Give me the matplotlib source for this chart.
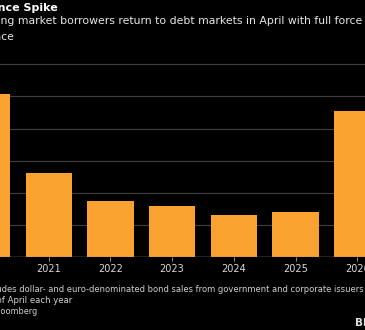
import matplotlib.pyplot as plt

# April bond sales by emerging market borrowers, $ billions
years = ["2020", "2021", "2022", "2023", "2024", "2025", "2026"]
issuance = [50.7, 26.1, 17.5, 15.8, 13.2, 14.1, 45.5]
grid_vals = [0, 10, 20, 30, 40, 50, 60]

W, H = 365, 330
BG = "#000000"
ORANGE = "#FAA22F"

plt.rcParams["font.family"] = ["DejaVu Sans"]

fig = plt.figure(figsize=(W / 100, H / 100), dpi=100, facecolor=BG)

# axes run past the canvas on both sides, pixel layout worked out below
left_px, right_px = -40, 400
bottom_px, top_px = 330 - 257.3, 330 - 257.3 + 62 * 3.22
ax = fig.add_axes([left_px / W, bottom_px / H, (right_px - left_px) / W,
                   (top_px - bottom_px) / H])
ax.set_facecolor(BG)

step = 61.7
x0 = -13.0
pos = list(range(len(years)))
ax.set_xlim((left_px - x0) / step, (right_px - x0) / step)
ax.set_ylim(0, 62)

ax.bar(pos, issuance, width=0.75, color=ORANGE, zorder=3)

ax.set_yticks(grid_vals)
ax.yaxis.tick_right()
ax.tick_params(axis="y", length=0, labelcolor="#cccccc", labelsize=7)
ax.grid(axis="y", color="#3c3c3c", linewidth=0.9, zorder=0)
ax.axhline(0, color="#8a8a8a", linewidth=1.0, zorder=4)

ax.set_xticks(pos)
ax.set_xticklabels(years)
ax.tick_params(axis="x", length=3, width=0.8, color="#8a8a8a",
               labelcolor="#d8d8d8", labelsize=7, pad=2)
for s in ax.spines.values():
    s.set_visible(False)


def put(px, py, txt, **kw):
    fig.text(px / W, 1 - py / H, txt, va="center", **kw)


put(58, 8, "Issuance Spike", ha="right", color="white",
    fontsize=8.0, fontweight="bold")
put(362, 21.5,
    "Emerging market borrowers return to debt markets in April with full force",
    ha="right", color="#e6e6e6", fontsize=7.8)
put(13.5, 36.5, "April issuance", ha="right", color="#e6e6e6", fontsize=7.8)

put(364, 289,
    "Note: Includes dollar- and euro-denominated bond sales from government and corporate issuers",
    ha="right", color="#d0d0d0", fontsize=6.02)
put(72, 300.5, "Data through end of April each year", ha="right",
    color="#d0d0d0", fontsize=6.1)
put(37.5, 311.7, "Source: Bloomberg", ha="right", color="#d0d0d0",
    fontsize=5.9)
put(355, 323.5, "Bloomberg", ha="left", color="#e0e0e0", fontsize=7.5,
    fontweight="bold")

fig.savefig("out.png", dpi=100, facecolor=BG)
